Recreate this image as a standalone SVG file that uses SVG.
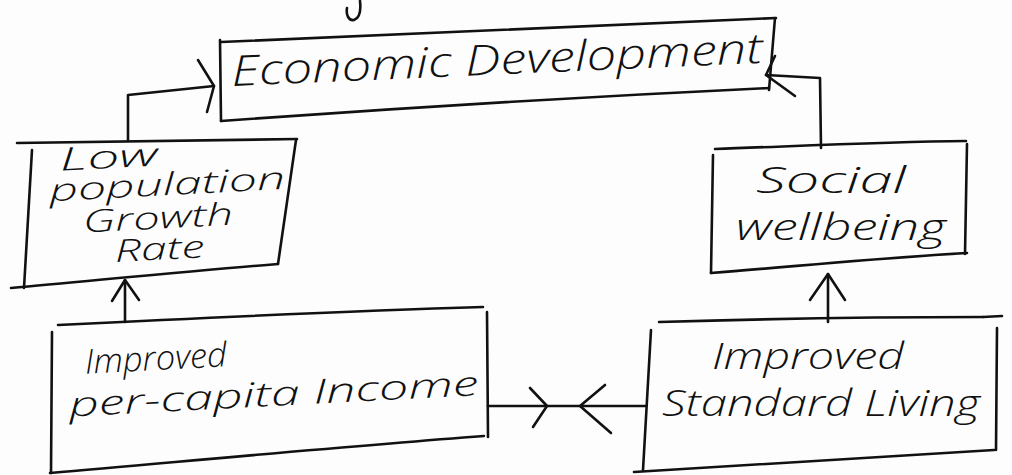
<svg xmlns="http://www.w3.org/2000/svg" width="1012" height="475" viewBox="0 0 1012 475">
  <defs>
    <style>
      .pen { fill: none; stroke: #111; stroke-width: 2.6; stroke-linecap: round; stroke-linejoin: round; }
      .hand { font-family: "Open Sans", "DejaVu Sans", "Liberation Sans", sans-serif; font-style: italic; font-weight: 300; fill: #111; }
    </style>
  </defs>
  <rect width="1012" height="475" fill="#fdfdfd"/>

  <!-- stray pen stroke at the top edge -->
  <path class="pen" d="M360,1 C361,10 360,18 354,20 C348,21 346,14 347,8"/>

  <g id="economic-development">
    <path class="pen" d="M221,42 C400,34 600,26 776,18"/>
    <path class="pen" d="M220,40 L221,121"/>
    <path class="pen" d="M775,18 L769,90"/>
    <path class="pen" d="M221,121 C400,108 600,96 769,88"/>
    <text class="hand" x="232" y="86" font-size="42" textLength="532" lengthAdjust="spacingAndGlyphs" transform="rotate(-2.5 232 86)">Economic Development</text>
  </g>

  <g id="low-population-growth-rate">
    <path class="pen" d="M17,143 C120,141 210,140 297,139"/>
    <path class="pen" d="M32,150 L24,288"/>
    <path class="pen" d="M296,140 L278,264"/>
    <path class="pen" d="M11,288 C100,280 200,270 278,264"/>
    <g transform="rotate(-3 150 200)">
      <text class="hand" x="62" y="166" font-size="32" textLength="98" lengthAdjust="spacingAndGlyphs">Low</text>
      <text class="hand" x="50" y="196" font-size="31" textLength="236" lengthAdjust="spacingAndGlyphs">population</text>
      <text class="hand" x="82" y="229" font-size="31" textLength="150" lengthAdjust="spacingAndGlyphs">Growth</text>
      <text class="hand" x="112" y="260" font-size="31" textLength="90" lengthAdjust="spacingAndGlyphs">Rate</text>
    </g>
  </g>

  <g id="social-wellbeing">
    <path class="pen" d="M715,149 C800,146 880,142 966,141"/>
    <path class="pen" d="M713,155 L711,273"/>
    <path class="pen" d="M967,144 L965,254"/>
    <path class="pen" d="M711,273 C800,266 880,258 967,253"/>
    <text class="hand" x="756" y="193" font-size="36" textLength="150" lengthAdjust="spacingAndGlyphs">Social</text>
    <text class="hand" x="736" y="240" font-size="36" textLength="210" lengthAdjust="spacingAndGlyphs">wellbeing</text>
  </g>

  <g id="improved-per-capita-income">
    <path class="pen" d="M58,325 C200,318 350,311 483,307"/>
    <path class="pen" d="M52,332 L51,473"/>
    <path class="pen" d="M487,312 L488,437"/>
    <path class="pen" d="M50,473 C200,460 350,446 484,436"/>
    <g transform="rotate(-3 270 380)">
      <text class="hand" x="86" y="364" font-size="34" textLength="142" lengthAdjust="spacingAndGlyphs">Improved</text>
      <text class="hand" x="68" y="406" font-size="34" textLength="410" lengthAdjust="spacingAndGlyphs">per-capita Income</text>
    </g>
  </g>

  <g id="improved-standard-living">
    <path class="pen" d="M659,322 C760,319 880,317 983,317"/>
    <path class="pen" d="M983,317 L1002,316"/>
    <path class="pen" d="M651,330 L643,470"/>
    <path class="pen" d="M997,328 L996,450"/>
    <path class="pen" d="M634,472 C760,464 880,456 994,450"/>
    <text class="hand" x="712" y="369" font-size="36" textLength="192" lengthAdjust="spacingAndGlyphs">Improved</text>
    <text class="hand" x="662" y="416" font-size="36" textLength="318" lengthAdjust="spacingAndGlyphs">Standard Living</text>
  </g>

  <g id="connectors">
    <!-- low population growth rate to economic development -->
    <path class="pen" d="M128,140 L128,95 L214,86"/>
    <path class="pen" d="M198,60 L214,86 L207,112"/>
    <!-- social wellbeing to economic development -->
    <path class="pen" d="M821,148 L820,78 L766,75"/>
    <path class="pen" d="M775,56 L766,75 L795,96"/>
    <!-- per-capita income to low population growth rate -->
    <path class="pen" d="M125,322 L125,280"/>
    <path class="pen" d="M112,301 L125,280 L139,300"/>
    <!-- standard living to social wellbeing -->
    <path class="pen" d="M828,322 L828,274"/>
    <path class="pen" d="M810,300 L828,274 L845,300"/>
    <!-- two-way link between the lower boxes -->
    <path class="pen" d="M488,406 L646,406" stroke-width="3.2"/>
    <path class="pen" d="M530,388 L547,406 L533,427"/>
    <path class="pen" d="M605,385 L580,406 L611,433"/>
  </g>
</svg>
